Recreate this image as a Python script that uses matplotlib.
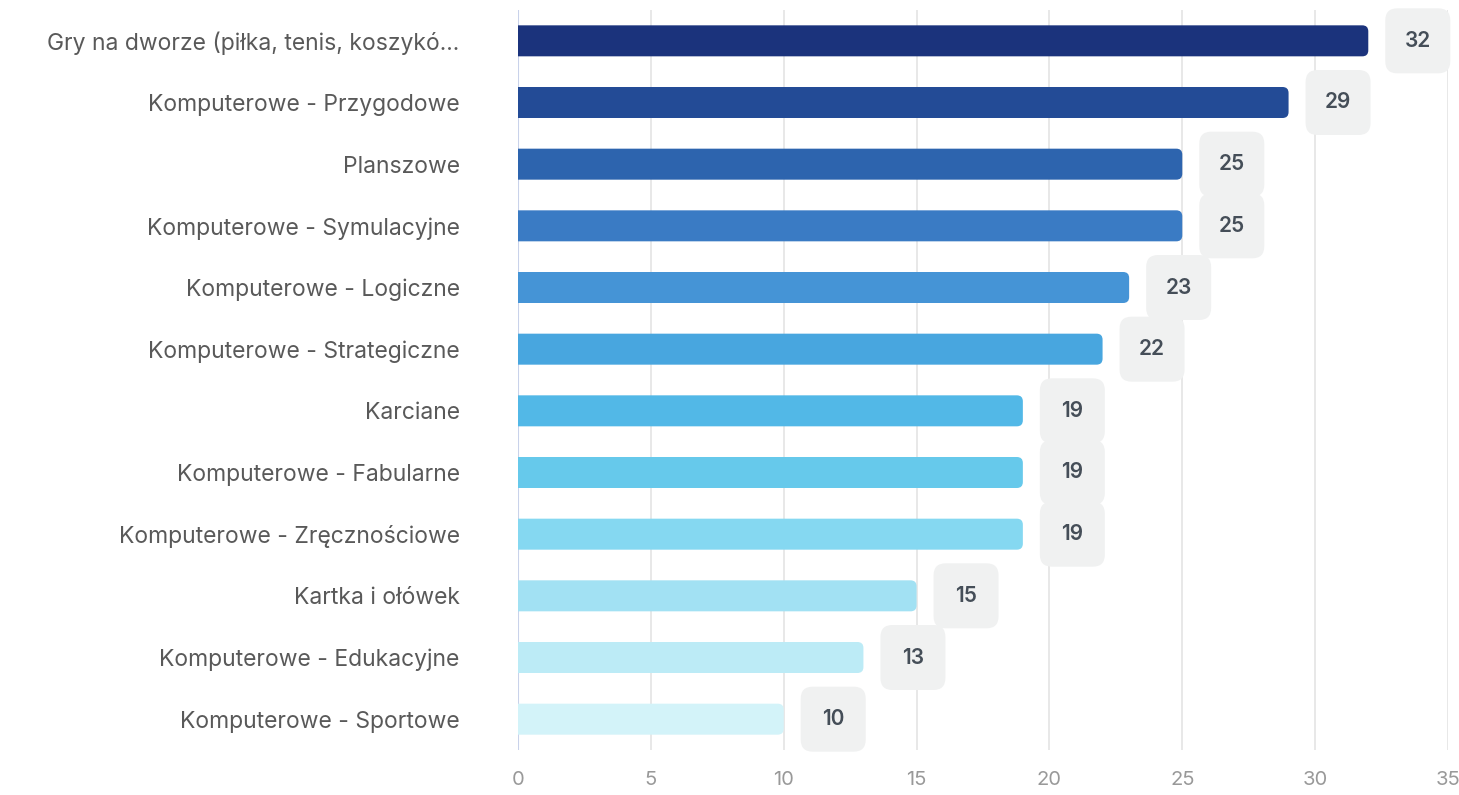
import matplotlib
matplotlib.use('Agg')
import matplotlib.pyplot as plt
from matplotlib.patches import FancyBboxPatch

plt.rcParams['font.family'] = ['Inter', 'DejaVu Sans']

### DATA ###

categories = [
    'Gry na dworze (piłka, tenis, koszykó...',
    'Komputerowe - Przygodowe',
    'Planszowe',
    'Komputerowe - Symulacyjne',
    'Komputerowe - Logiczne',
    'Komputerowe - Strategiczne',
    'Karciane',
    'Komputerowe - Fabularne',
    'Komputerowe - Zręcznościowe',
    'Kartka i ołówek',
    'Komputerowe - Edukacyjne',
    'Komputerowe - Sportowe',
]
values = [32, 29, 25, 25, 23, 22, 19, 19, 19, 15, 13, 10]
colors = ['#1b337c', '#234b96', '#2d64ae', '#3a7bc4', '#4594d6', '#48a6df',
          '#52b8e7', '#66c9eb', '#85d8f1', '#a2e1f3', '#bcebf6', '#d3f3f9']
xticks = [0, 5, 10, 15, 20, 25, 30, 35]


### PLOT ###

W, H = 1459, 795
fig = plt.figure(figsize=(W / 100, H / 100), dpi=100)
x0, x1, y0, y1 = 518, 1448, 10, 750
ax = fig.add_axes([x0 / W, 1 - y1 / H, (x1 - x0) / W, (y1 - y0) / H])
ax.set_xlim(0, 35)
ax.set_ylim(len(values) - 0.5, -0.5)

# pixels per data unit
px_x = (x1 - x0) / 35
px_y = (y1 - y0) / len(values)
aspect = px_x / px_y

bar_h = 31 / px_y
r_bar = 6 / px_x
box_w, box_h = 65 / px_x, 65 / px_y
gap = 17 / px_x
r_box = 12 / px_x

for i, (v, c) in enumerate(zip(values, colors)):
    # bar with rounded right end (left end hidden under clip at x=0)
    ax.add_patch(FancyBboxPatch((-3 * r_bar, i - bar_h / 2), v + 3 * r_bar, bar_h,
                                boxstyle='round,pad=0,rounding_size=%f' % r_bar,
                                mutation_aspect=aspect, fc=c, ec='none', zorder=3))
    # value label box
    bx = v + gap
    ax.add_patch(FancyBboxPatch((bx, i - box_h / 2), box_w, box_h,
                                boxstyle='round,pad=0,rounding_size=%f' % r_box,
                                mutation_aspect=aspect, fc='#f0f1f1', ec='none',
                                zorder=4, clip_on=False))
    ax.text(bx + box_w / 2, i, str(v), ha='center', va='center', fontsize=15,
            fontweight='semibold', color='#454e58', zorder=5)

ax.set_yticks(range(len(categories)))
ax.set_yticklabels(categories, fontsize=16.5, color='#595959')
ax.set_xticks(xticks)
ax.set_xticklabels([str(t) for t in xticks], fontsize=14.5, color='#999999')
ax.tick_params(axis='both', length=0)
ax.tick_params(axis='y', pad=42)
ax.tick_params(axis='x', pad=15)

for t in xticks[1:]:
    ax.axvline(t, color='#e6e6e6', lw=1.3, zorder=1)
ax.axvline(0, color='#c9d2ea', lw=1.5, zorder=2)

for s in ax.spines.values():
    s.set_visible(False)

fig.savefig('out.png', dpi=100)
